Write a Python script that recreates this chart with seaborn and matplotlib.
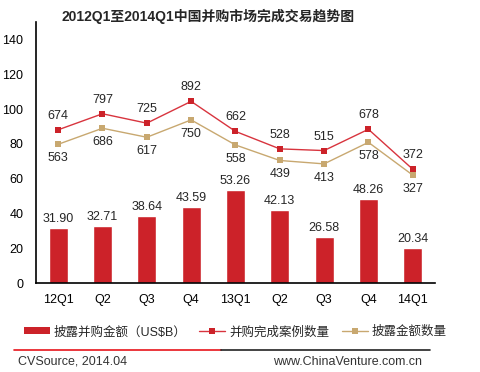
import matplotlib
matplotlib.use("Agg")
import matplotlib.pyplot as plt
from matplotlib.lines import Line2D
from matplotlib.patches import Patch
import seaborn as sns
import pandas as pd

# Data
quarters = ["12Q1", "Q2", "Q3", "Q4", "13Q1", "Q2", "Q3", "Q4", "14Q1"]
deal_value = [31.90, 32.71, 38.64, 43.59, 53.26, 42.13, 26.58, 48.26, 20.34]   # US$B
deal_count = [674, 797, 725, 892, 662, 528, 515, 678, 372]
disclosed_count = [563, 686, 617, 750, 558, 439, 413, 578, 327]

BAR_RED = "#CC2229"
LINE_RED = "#D8343E"
TAN = "#C8A870"

sns.set_style("white")
plt.rcParams['font.family'] = ['Liberation Sans', 'Noto Sans CJK SC']

df = pd.DataFrame({
    "idx": range(len(quarters)),
    "value": deal_value,
    "deals": deal_count,
    "disclosed": disclosed_count,
})

fig = plt.figure(figsize=(4.8, 3.72), dpi=100)
ax = fig.add_axes([0.075, 0.2392, 0.831, 0.7016])

sns.barplot(data=df, x="idx", y="value", color=BAR_RED, width=0.43,
            saturation=1, ax=ax)
ax.set_xlim(-0.5, len(quarters) - 0.5)
ax.set_ylim(0, 150)
ax.set_yticks(range(0, 141, 20))
ax.set_xticks(range(len(quarters)))
ax.set_xticklabels(quarters)
ax.set_xlabel("")
ax.set_ylabel("")
ax.tick_params(axis="both", length=0, labelsize=9, colors="black")
ax.tick_params(axis="y", pad=9)
ax.tick_params(axis="x", pad=8)
for side in ["top", "right"]:
    ax.spines[side].set_visible(False)
for side in ["left", "bottom"]:
    ax.spines[side].set_color("black")
    ax.spines[side].set_linewidth(1.2)

for i, v in enumerate(deal_value):
    ax.annotate(f"{v:.2f}", (i, v), xytext=(0, 3), textcoords="offset pixels",
                ha="center", va="bottom", fontsize=9)

# secondary (hidden) axis for the counts
ax2 = ax.twinx()
sns.lineplot(data=df, x="idx", y="deals", color=LINE_RED, linewidth=1,
             marker="s", markersize=5, markerfacecolor=BAR_RED,
             markeredgewidth=0, ax=ax2)
sns.lineplot(data=df, x="idx", y="disclosed", color=TAN, linewidth=1,
             marker="s", markersize=5, markerfacecolor=TAN,
             markeredgewidth=0, ax=ax2)
ax2.set_ylim(-500, 1500)
ax2.axis("off")

for i, v in enumerate(deal_count):
    ax2.annotate(str(v), (i, v), xytext=(0, 14), textcoords="offset pixels",
                 ha="center", va="center", fontsize=9)
for i, v in enumerate(disclosed_count):
    ax2.annotate(str(v), (i, v), xytext=(0, -14), textcoords="offset pixels",
                 ha="center", va="center", fontsize=9)

fig.text(0.433, 0.957, "2012Q1至2014Q1中国并购市场完成交易趋势图",
         ha="center", va="center", fontsize=10, fontweight="bold")

handles = [
    Patch(facecolor=BAR_RED, edgecolor="none"),
    Line2D([], [], color=LINE_RED, lw=1, marker="s", markersize=4,
           markerfacecolor=BAR_RED, markeredgewidth=0),
    Line2D([], [], color=TAN, lw=1, marker="s", markersize=4,
           markerfacecolor=TAN, markeredgewidth=0),
]
labels = ["披露并购金额（US$B）", "并购完成案例数量", "披露金额数量"]
fig.legend(handles, labels, loc="center", bbox_to_anchor=(0.49, 0.107),
           ncol=3, frameon=False, fontsize=9, handlelength=2.1,
           handleheight=0.5, columnspacing=1.0, handletextpad=0.3)

# footer rule and source line
fig.add_artist(Line2D([14 / 480, 221 / 480], [1 - 350 / 372] * 2,
                      transform=fig.transFigure, color="#E8141B", lw=1.2))
fig.add_artist(Line2D([221 / 480, 430 / 480], [1 - 350 / 372] * 2,
                      transform=fig.transFigure, color="#222222", lw=1.2))
fig.text(18 / 480, 1 - 362 / 372, "CVSource, 2014.04", ha="left",
         va="center", fontsize=9, color="#333333")
fig.text(273 / 480, 1 - 362 / 372, "www.ChinaVenture.com.cn", ha="left",
         va="center", fontsize=9, color="#333333")

fig.savefig("out.png", dpi=100)
